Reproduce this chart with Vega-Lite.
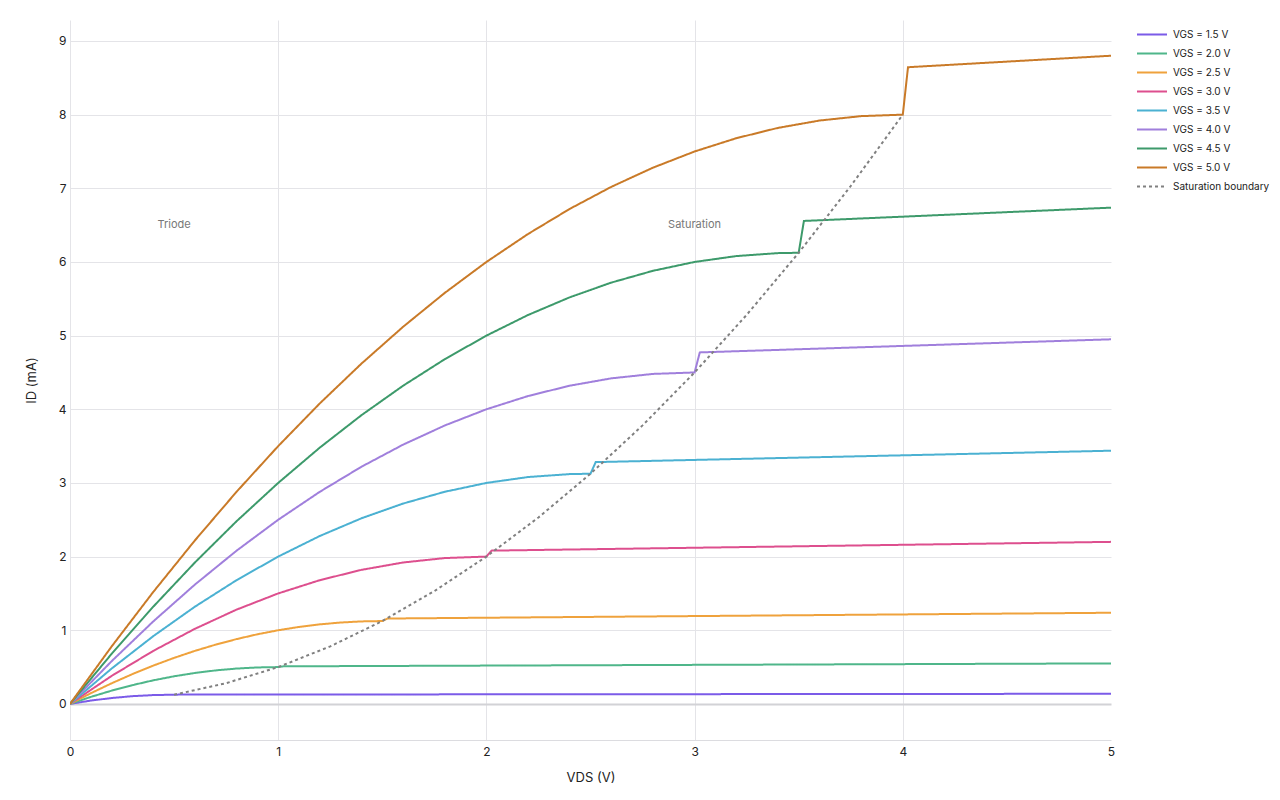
{
  "$schema": "https://vega.github.io/schema/vega-lite/v6.json",
  "width": 1041,
  "height": 720,
  "autosize": "none",
  "padding": {"left": 70, "top": 20, "right": 169, "bottom": 60},
  "background": "white",
  "config": {
    "font": "Inter",
    "view": {"stroke": null},
    "axis": {
      "labelFont": "Inter",
      "titleFont": "Inter",
      "labelFontSize": 12,
      "labelColor": "#222",
      "titleFontSize": 13,
      "titleFontWeight": "normal",
      "titleColor": "#222",
      "ticks": false,
      "gridColor": "#e4e4e8",
      "gridWidth": 1
    },
    "legend": {
      "labelFont": "Inter",
      "labelFontSize": 10,
      "labelColor": "#222"
    }
  },
  "datasets": {
    "curves": [
      {"series": "VGS = 1.5 V", "vds": 0, "id": 0},
      {"series": "VGS = 1.5 V", "vds": 0.1, "id": 0.045},
      {"series": "VGS = 1.5 V", "vds": 0.2, "id": 0.08},
      {"series": "VGS = 1.5 V", "vds": 0.3, "id": 0.105},
      {"series": "VGS = 1.5 V", "vds": 0.4, "id": 0.12},
      {"series": "VGS = 1.5 V", "vds": 0.5, "id": 0.125},
      {"series": "VGS = 1.5 V", "vds": 0.525, "id": 0.1263},
      {"series": "VGS = 1.5 V", "vds": 5, "id": 0.1375},

      {"series": "VGS = 2.0 V", "vds": 0, "id": 0},
      {"series": "VGS = 2.0 V", "vds": 0.1, "id": 0.095},
      {"series": "VGS = 2.0 V", "vds": 0.2, "id": 0.18},
      {"series": "VGS = 2.0 V", "vds": 0.3, "id": 0.255},
      {"series": "VGS = 2.0 V", "vds": 0.4, "id": 0.32},
      {"series": "VGS = 2.0 V", "vds": 0.5, "id": 0.375},
      {"series": "VGS = 2.0 V", "vds": 0.6, "id": 0.42},
      {"series": "VGS = 2.0 V", "vds": 0.7, "id": 0.455},
      {"series": "VGS = 2.0 V", "vds": 0.8, "id": 0.48},
      {"series": "VGS = 2.0 V", "vds": 0.9, "id": 0.495},
      {"series": "VGS = 2.0 V", "vds": 1.0, "id": 0.5},
      {"series": "VGS = 2.0 V", "vds": 1.025, "id": 0.5103},
      {"series": "VGS = 2.0 V", "vds": 5, "id": 0.55},

      {"series": "VGS = 2.5 V", "vds": 0, "id": 0},
      {"series": "VGS = 2.5 V", "vds": 0.1, "id": 0.145},
      {"series": "VGS = 2.5 V", "vds": 0.2, "id": 0.28},
      {"series": "VGS = 2.5 V", "vds": 0.3, "id": 0.405},
      {"series": "VGS = 2.5 V", "vds": 0.4, "id": 0.52},
      {"series": "VGS = 2.5 V", "vds": 0.5, "id": 0.625},
      {"series": "VGS = 2.5 V", "vds": 0.6, "id": 0.72},
      {"series": "VGS = 2.5 V", "vds": 0.7, "id": 0.805},
      {"series": "VGS = 2.5 V", "vds": 0.8, "id": 0.88},
      {"series": "VGS = 2.5 V", "vds": 0.9, "id": 0.945},
      {"series": "VGS = 2.5 V", "vds": 1.0, "id": 1.0},
      {"series": "VGS = 2.5 V", "vds": 1.1, "id": 1.045},
      {"series": "VGS = 2.5 V", "vds": 1.2, "id": 1.08},
      {"series": "VGS = 2.5 V", "vds": 1.3, "id": 1.105},
      {"series": "VGS = 2.5 V", "vds": 1.4, "id": 1.12},
      {"series": "VGS = 2.5 V", "vds": 1.5, "id": 1.125},
      {"series": "VGS = 2.5 V", "vds": 1.525, "id": 1.1593},
      {"series": "VGS = 2.5 V", "vds": 5, "id": 1.2375},

      {"series": "VGS = 3.0 V", "vds": 0, "id": 0},
      {"series": "VGS = 3.0 V", "vds": 0.2, "id": 0.38},
      {"series": "VGS = 3.0 V", "vds": 0.4, "id": 0.72},
      {"series": "VGS = 3.0 V", "vds": 0.6, "id": 1.02},
      {"series": "VGS = 3.0 V", "vds": 0.8, "id": 1.28},
      {"series": "VGS = 3.0 V", "vds": 1.0, "id": 1.5},
      {"series": "VGS = 3.0 V", "vds": 1.2, "id": 1.68},
      {"series": "VGS = 3.0 V", "vds": 1.4, "id": 1.82},
      {"series": "VGS = 3.0 V", "vds": 1.6, "id": 1.92},
      {"series": "VGS = 3.0 V", "vds": 1.8, "id": 1.98},
      {"series": "VGS = 3.0 V", "vds": 2.0, "id": 2.0},
      {"series": "VGS = 3.0 V", "vds": 2.025, "id": 2.081},
      {"series": "VGS = 3.0 V", "vds": 5, "id": 2.2},

      {"series": "VGS = 3.5 V", "vds": 0, "id": 0},
      {"series": "VGS = 3.5 V", "vds": 0.2, "id": 0.48},
      {"series": "VGS = 3.5 V", "vds": 0.4, "id": 0.92},
      {"series": "VGS = 3.5 V", "vds": 0.6, "id": 1.32},
      {"series": "VGS = 3.5 V", "vds": 0.8, "id": 1.68},
      {"series": "VGS = 3.5 V", "vds": 1.0, "id": 2.0},
      {"series": "VGS = 3.5 V", "vds": 1.2, "id": 2.28},
      {"series": "VGS = 3.5 V", "vds": 1.4, "id": 2.52},
      {"series": "VGS = 3.5 V", "vds": 1.6, "id": 2.72},
      {"series": "VGS = 3.5 V", "vds": 1.8, "id": 2.88},
      {"series": "VGS = 3.5 V", "vds": 2.0, "id": 3.0},
      {"series": "VGS = 3.5 V", "vds": 2.2, "id": 3.08},
      {"series": "VGS = 3.5 V", "vds": 2.4, "id": 3.12},
      {"series": "VGS = 3.5 V", "vds": 2.5, "id": 3.125},
      {"series": "VGS = 3.5 V", "vds": 2.525, "id": 3.2828},
      {"series": "VGS = 3.5 V", "vds": 5, "id": 3.4375},

      {"series": "VGS = 4.0 V", "vds": 0, "id": 0},
      {"series": "VGS = 4.0 V", "vds": 0.2, "id": 0.58},
      {"series": "VGS = 4.0 V", "vds": 0.4, "id": 1.12},
      {"series": "VGS = 4.0 V", "vds": 0.6, "id": 1.62},
      {"series": "VGS = 4.0 V", "vds": 0.8, "id": 2.08},
      {"series": "VGS = 4.0 V", "vds": 1.0, "id": 2.5},
      {"series": "VGS = 4.0 V", "vds": 1.2, "id": 2.88},
      {"series": "VGS = 4.0 V", "vds": 1.4, "id": 3.22},
      {"series": "VGS = 4.0 V", "vds": 1.6, "id": 3.52},
      {"series": "VGS = 4.0 V", "vds": 1.8, "id": 3.78},
      {"series": "VGS = 4.0 V", "vds": 2.0, "id": 4.0},
      {"series": "VGS = 4.0 V", "vds": 2.2, "id": 4.18},
      {"series": "VGS = 4.0 V", "vds": 2.4, "id": 4.32},
      {"series": "VGS = 4.0 V", "vds": 2.6, "id": 4.42},
      {"series": "VGS = 4.0 V", "vds": 2.8, "id": 4.48},
      {"series": "VGS = 4.0 V", "vds": 3.0, "id": 4.5},
      {"series": "VGS = 4.0 V", "vds": 3.025, "id": 4.7723},
      {"series": "VGS = 4.0 V", "vds": 5, "id": 4.95},

      {"series": "VGS = 4.5 V", "vds": 0, "id": 0},
      {"series": "VGS = 4.5 V", "vds": 0.2, "id": 0.68},
      {"series": "VGS = 4.5 V", "vds": 0.4, "id": 1.32},
      {"series": "VGS = 4.5 V", "vds": 0.6, "id": 1.92},
      {"series": "VGS = 4.5 V", "vds": 0.8, "id": 2.48},
      {"series": "VGS = 4.5 V", "vds": 1.0, "id": 3.0},
      {"series": "VGS = 4.5 V", "vds": 1.2, "id": 3.48},
      {"series": "VGS = 4.5 V", "vds": 1.4, "id": 3.92},
      {"series": "VGS = 4.5 V", "vds": 1.6, "id": 4.32},
      {"series": "VGS = 4.5 V", "vds": 1.8, "id": 4.68},
      {"series": "VGS = 4.5 V", "vds": 2.0, "id": 5.0},
      {"series": "VGS = 4.5 V", "vds": 2.2, "id": 5.28},
      {"series": "VGS = 4.5 V", "vds": 2.4, "id": 5.52},
      {"series": "VGS = 4.5 V", "vds": 2.6, "id": 5.72},
      {"series": "VGS = 4.5 V", "vds": 2.8, "id": 5.88},
      {"series": "VGS = 4.5 V", "vds": 3.0, "id": 6.0},
      {"series": "VGS = 4.5 V", "vds": 3.2, "id": 6.08},
      {"series": "VGS = 4.5 V", "vds": 3.4, "id": 6.12},
      {"series": "VGS = 4.5 V", "vds": 3.5, "id": 6.125},
      {"series": "VGS = 4.5 V", "vds": 3.525, "id": 6.5568},
      {"series": "VGS = 4.5 V", "vds": 5, "id": 6.7375},

      {"series": "VGS = 5.0 V", "vds": 0, "id": 0},
      {"series": "VGS = 5.0 V", "vds": 0.2, "id": 0.78},
      {"series": "VGS = 5.0 V", "vds": 0.4, "id": 1.52},
      {"series": "VGS = 5.0 V", "vds": 0.6, "id": 2.22},
      {"series": "VGS = 5.0 V", "vds": 0.8, "id": 2.88},
      {"series": "VGS = 5.0 V", "vds": 1.0, "id": 3.5},
      {"series": "VGS = 5.0 V", "vds": 1.2, "id": 4.08},
      {"series": "VGS = 5.0 V", "vds": 1.4, "id": 4.62},
      {"series": "VGS = 5.0 V", "vds": 1.6, "id": 5.12},
      {"series": "VGS = 5.0 V", "vds": 1.8, "id": 5.58},
      {"series": "VGS = 5.0 V", "vds": 2.0, "id": 6.0},
      {"series": "VGS = 5.0 V", "vds": 2.2, "id": 6.38},
      {"series": "VGS = 5.0 V", "vds": 2.4, "id": 6.72},
      {"series": "VGS = 5.0 V", "vds": 2.6, "id": 7.02},
      {"series": "VGS = 5.0 V", "vds": 2.8, "id": 7.28},
      {"series": "VGS = 5.0 V", "vds": 3.0, "id": 7.5},
      {"series": "VGS = 5.0 V", "vds": 3.2, "id": 7.68},
      {"series": "VGS = 5.0 V", "vds": 3.4, "id": 7.82},
      {"series": "VGS = 5.0 V", "vds": 3.6, "id": 7.92},
      {"series": "VGS = 5.0 V", "vds": 3.8, "id": 7.98},
      {"series": "VGS = 5.0 V", "vds": 4.0, "id": 8.0},
      {"series": "VGS = 5.0 V", "vds": 4.025, "id": 8.644},
      {"series": "VGS = 5.0 V", "vds": 5, "id": 8.8},

      {"series": "Saturation boundary", "vds": 0.5, "id": 0.125},
      {"series": "Saturation boundary", "vds": 0.75, "id": 0.28125},
      {"series": "Saturation boundary", "vds": 1.0, "id": 0.5},
      {"series": "Saturation boundary", "vds": 1.25, "id": 0.78125},
      {"series": "Saturation boundary", "vds": 1.5, "id": 1.125},
      {"series": "Saturation boundary", "vds": 1.75, "id": 1.53125},
      {"series": "Saturation boundary", "vds": 2.0, "id": 2.0},
      {"series": "Saturation boundary", "vds": 2.25, "id": 2.53125},
      {"series": "Saturation boundary", "vds": 2.5, "id": 3.125},
      {"series": "Saturation boundary", "vds": 2.75, "id": 3.78125},
      {"series": "Saturation boundary", "vds": 3.0, "id": 4.5},
      {"series": "Saturation boundary", "vds": 3.25, "id": 5.28125},
      {"series": "Saturation boundary", "vds": 3.5, "id": 6.125},
      {"series": "Saturation boundary", "vds": 3.75, "id": 7.03125},
      {"series": "Saturation boundary", "vds": 4.0, "id": 8.0}
    ],
    "labels": [
      {"vds": 0.5, "id": 6.5, "label": "Triode"},
      {"vds": 3.0, "id": 6.5, "label": "Saturation"}
    ]
  },
  "layer": [
    {
      "data": {"name": "curves"},
      "mark": {"type": "line", "strokeWidth": 2, "clip": true},
      "encoding": {
        "x": {
          "field": "vds", "type": "quantitative",
          "scale": {"domain": [0, 5], "nice": false},
          "axis": {
            "values": [0, 1, 2, 3, 4, 5],
            "format": "d",
            "title": "VDS (V)",
            "titlePadding": 14,
            "labelPadding": 6,
            "domain": true,
            "domainColor": "#dcdce0",
            "domainWidth": 1,
            "gridColor": {"condition": {"test": "datum.value == 5", "value": "transparent"}, "value": "#e4e4e8"},
            "labelFlush": false
          }
        },
        "y": {
          "field": "id", "type": "quantitative",
          "scale": {"domain": [-0.49, 9.285], "nice": false, "zero": false},
          "axis": {
            "values": [0, 1, 2, 3, 4, 5, 6, 7, 8, 9],
            "format": "d",
            "title": "ID (mA)",
            "titlePadding": 20,
            "labelPadding": 4,
            "domain": false,
            "gridColor": {"condition": {"test": "datum.value == 0", "value": "#d2d2d6"}, "value": "#e4e4e8"},
            "gridWidth": {"condition": {"test": "datum.value == 0", "value": 2}, "value": 1}
          }
        },
        "color": {
          "field": "series", "type": "nominal",
          "scale": {
            "domain": ["VGS = 1.5 V", "VGS = 2.0 V", "VGS = 2.5 V", "VGS = 3.0 V", "VGS = 3.5 V", "VGS = 4.0 V", "VGS = 4.5 V", "VGS = 5.0 V", "Saturation boundary"],
            "range": ["#7b5be8", "#4fb68a", "#efa23c", "#dd4f8e", "#4bb1d2", "#a07fdc", "#3d9a6b", "#c97a28", "#808080"]
          },
          "legend": {
            "title": null,
            "orient": "none",
            "legendX": 1066,
            "legendY": 5,
            "symbolType": "stroke",
            "symbolSize": 900,
            "symbolStrokeWidth": 2,
            "clipHeight": 19,
            "rowPadding": 0,
            "labelOffset": 5
          }
        },
        "strokeDash": {
          "field": "series", "type": "nominal",
          "scale": {
            "domain": ["VGS = 1.5 V", "VGS = 2.0 V", "VGS = 2.5 V", "VGS = 3.0 V", "VGS = 3.5 V", "VGS = 4.0 V", "VGS = 4.5 V", "VGS = 5.0 V", "Saturation boundary"],
            "range": [[1, 0], [1, 0], [1, 0], [1, 0], [1, 0], [1, 0], [1, 0], [1, 0], [3, 3]]
          },
          "legend": {
            "title": null,
            "orient": "none",
            "legendX": 1066,
            "legendY": 5,
            "symbolType": "stroke",
            "symbolSize": 900,
            "symbolStrokeWidth": 2,
            "clipHeight": 19,
            "rowPadding": 0,
            "labelOffset": 5
          }
        }
      }
    },
    {
      "data": {"name": "labels"},
      "mark": {"type": "text", "fontSize": 11, "color": "#777777", "font": "Inter"},
      "encoding": {
        "x": {"field": "vds", "type": "quantitative"},
        "y": {"field": "id", "type": "quantitative"},
        "text": {"field": "label"}
      }
    }
  ]
}
